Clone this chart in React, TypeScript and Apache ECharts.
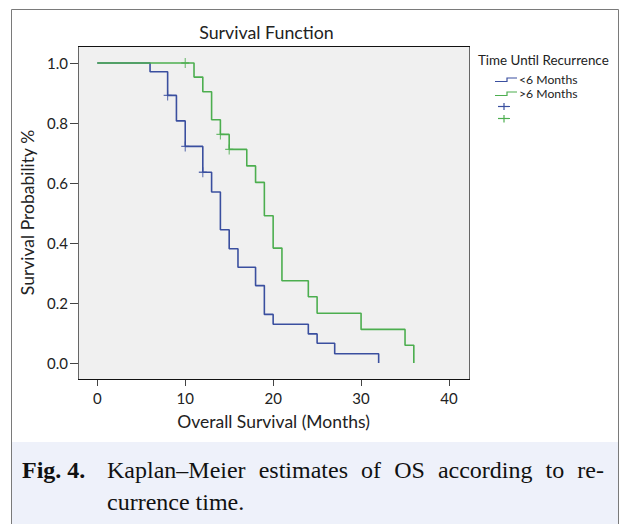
import React, { useEffect, useRef } from "react";
import * as echarts from "echarts";

// ---- data ----
const blueTimes = [0, 6, 8, 9, 10, 12, 13, 14, 15, 16, 18, 19, 20, 24, 25, 27, 32];
const blueSurv = [1, 0.971, 0.892, 0.807, 0.722, 0.636, 0.57, 0.444, 0.381, 0.319, 0.258, 0.162, 0.129, 0.097, 0.066, 0.031, 0];
const greenTimes = [0, 11, 12, 13, 14, 15, 17, 18, 19, 20, 21, 24, 25, 30, 35, 36];
const greenSurv = [1, 0.953, 0.904, 0.811, 0.762, 0.712, 0.657, 0.602, 0.491, 0.383, 0.274, 0.221, 0.166, 0.112, 0.059, 0];
const blueCensorTimes = [8, 10, 12];
const blueCensorSurv = [0.892, 0.722, 0.636];
const greenCensorTimes = [10, 14, 15];
const greenCensorSurv = [1, 0.762, 0.712];

const xTicks = [0, 10, 20, 30, 40];
const yTicks = [0, 0.2, 0.4, 0.6, 0.8, 1.0];

const seriesNames = ["<6 Months", ">6 Months"];
const legendTitle = "Time Until Recurrence";
const chartTitle = "Survival Function";
const xAxisName = "Overall Survival (Months)";
const yAxisName = "Survival Probability %";
const captionLabel = "Fig. 4.";
const captionLine1 = ["Kaplan–Meier", "estimates", "of", "OS", "according", "to", "re-"];
const captionLine2 = "currence time.";

const BLUE = "#3a4f9f";
const GREEN = "#4cae4f";
const SANS = "Lato, 'Noto Sans', sans-serif";
const SERIF = "'Liberation Serif', 'Times New Roman', serif";
const TEXT = "#222";

const zip = (a: number[], b: number[]) => a.map((v, i) => [v, b[i]]);
const CROSS = "path://M4,0L4,8M0,4L8,4";

export default function App() {
  const ref = useRef<HTMLDivElement>(null);
  useEffect(() => {
    const el = ref.current!;
    const chart = echarts.init(el, null, { renderer: "svg" });

    // justify first caption line
    const ctx = document.createElement("canvas").getContext("2d")!;
    ctx.font = "24px 'Liberation Serif'";
    const widths = captionLine1.map((w) => ctx.measureText(w).width);
    const total = widths.reduce((a, b) => a + b, 0);
    const capLeft = 107;
    const capRight = 604;
    const gap = (capRight - capLeft - total) / (captionLine1.length - 1);
    let cx = capLeft;
    const captionWords = captionLine1.map((w, i) => {
      const e = {
        type: "text",
        x: cx,
        y: 470,
        z: 5,
        style: { text: w, font: `24px ${SERIF}`, fill: "#111", verticalAlign: "middle" },
      };
      cx += widths[i] + gap;
      return e;
    });

    const plotL = 78, plotT = 46, plotR = 469, plotB = 379;

    chart.setOption({
      animation: false,
      backgroundColor: "#fff",
      grid: {
        left: plotL,
        top: plotT,
        width: plotR - plotL,
        height: plotB - plotT,
        containLabel: false,
        outerBoundsMode: "none",
      },
      xAxis: {
        type: "value",
        min: -2.195,
        max: 42.275,
        axisLine: { show: false, onZero: false },
        axisTick: { show: true, length: 7, customValues: xTicks, lineStyle: { color: "#444", width: 1 } },
        axisLabel: { margin: 11, fontSize: 15, color: TEXT, fontFamily: SANS, customValues: xTicks },
        splitLine: { show: false },
        name: xAxisName,
        nameLocation: "middle",
        nameGap: 33,
        nameTextStyle: { fontSize: 17.5, color: TEXT, fontFamily: SANS },
      },
      yAxis: {
        type: "value",
        min: -0.0533,
        max: 1.0567,
        axisLine: { show: false, onZero: false },
        axisTick: { show: true, length: 8, customValues: yTicks, lineStyle: { color: "#444", width: 1 } },
        axisLabel: {
          margin: 10,
          fontSize: 15,
          color: TEXT,
          fontFamily: SANS,
          customValues: yTicks,
          formatter: (v: number) => v.toFixed(1),
        },
        splitLine: { show: false },
        name: yAxisName,
        nameLocation: "middle",
        nameGap: 34,
        nameRotate: 90,
        nameTextStyle: { fontSize: 17.5, color: TEXT, fontFamily: SANS },
      },
      series: [
        {
          name: seriesNames[0],
          type: "line",
          step: "end",
          data: zip(blueTimes, blueSurv),
          showSymbol: false,
          lineStyle: { color: BLUE, width: 1.6 },
          itemStyle: { color: BLUE },
          z: 3,
        },
        {
          name: seriesNames[1],
          type: "line",
          step: "end",
          data: zip(greenTimes, greenSurv),
          showSymbol: false,
          lineStyle: { color: GREEN, width: 1.6 },
          itemStyle: { color: GREEN },
          z: 3,
        },
        {
          name: seriesNames[0] + " censored",
          type: "scatter",
          data: zip(blueCensorTimes, blueCensorSurv),
          symbol: CROSS,
          symbolSize: [8, 10],
          itemStyle: { color: "transparent", borderColor: BLUE, borderWidth: 1.2 },
          z: 4,
        },
        {
          name: seriesNames[1] + " censored",
          type: "scatter",
          data: zip(greenCensorTimes, greenCensorSurv),
          symbol: CROSS,
          symbolSize: [8, 10],
          itemStyle: { color: "transparent", borderColor: GREEN, borderWidth: 1.2 },
          z: 4,
        },
      ],
      graphic: [
        // outer frame
        {
          type: "rect",
          z: -30,
          shape: { x: 11.5, y: 9.5, width: 607, height: 530 },
          style: { fill: "#fff", stroke: "#7a7a7a", lineWidth: 1 },
        },
        {
          type: "rect",
          z: -29,
          shape: { x: 12, y: 442, width: 606, height: 90 },
          style: { fill: "#eef1fa" },
        },
        // plot box
        {
          type: "rect",
          z: -10,
          shape: { x: plotL + 0.5, y: plotT + 0.5, width: plotR - plotL, height: plotB - plotT },
          style: { fill: "#f0f0f0", stroke: "#666", lineWidth: 1 },
        },
        {
          type: "line",
          z: 6,
          shape: { x1: plotL, y1: plotT + 0.5, x2: plotR + 1, y2: plotT + 0.5 },
          style: { stroke: "#111", lineWidth: 1.2 },
        },
        {
          type: "line",
          z: 6,
          shape: { x1: plotL, y1: plotB + 0.5, x2: plotR + 1, y2: plotB + 0.5 },
          style: { stroke: "#111", lineWidth: 1.2 },
        },
        // chart title
        {
          type: "text",
          x: 266.5,
          y: 32,
          style: { text: chartTitle, font: `17.8px ${SANS}`, fill: TEXT, align: "center", verticalAlign: "middle" },
        },
        // legend
        {
          type: "text",
          x: 478,
          y: 60,
          style: { text: legendTitle, font: `13.4px ${SANS}`, fill: TEXT, verticalAlign: "middle" },
        },
        {
          type: "polyline",
          shape: { points: [[495, 81.5], [507, 81.5], [507, 78], [517, 78]] },
          style: { stroke: BLUE, lineWidth: 1.2, fill: "none" },
        },
        {
          type: "text",
          x: 519,
          y: 79.5,
          style: { text: seriesNames[0], font: `12.2px ${SANS}`, fill: TEXT, verticalAlign: "middle" },
        },
        {
          type: "polyline",
          shape: { points: [[495, 95.5], [507, 95.5], [507, 92], [517, 92]] },
          style: { stroke: GREEN, lineWidth: 1.2, fill: "none" },
        },
        {
          type: "text",
          x: 519,
          y: 93.5,
          style: { text: seriesNames[1], font: `12.2px ${SANS}`, fill: TEXT, verticalAlign: "middle" },
        },
        { type: "line", shape: { x1: 498, y1: 106.5, x2: 510, y2: 106.5 }, style: { stroke: BLUE, lineWidth: 1.2 } },
        { type: "line", shape: { x1: 504, y1: 103, x2: 504, y2: 110 }, style: { stroke: BLUE, lineWidth: 1.2 } },
        { type: "line", shape: { x1: 498, y1: 118.5, x2: 510, y2: 118.5 }, style: { stroke: GREEN, lineWidth: 1.2 } },
        { type: "line", shape: { x1: 504, y1: 115, x2: 504, y2: 122.5 }, style: { stroke: GREEN, lineWidth: 1.2 } },
        // caption
        {
          type: "text",
          x: 22,
          y: 470,
          z: 5,
          style: { text: captionLabel, font: `bold 24px ${SERIF}`, fill: "#111", verticalAlign: "middle" },
        },
        ...captionWords,
        {
          type: "text",
          x: capLeft,
          y: 502,
          z: 5,
          style: { text: captionLine2, font: `24px ${SERIF}`, fill: "#111", verticalAlign: "middle" },
        },
      ],
    });
    return () => chart.dispose();
  }, []);
  return <div ref={ref} style={{ position: "fixed", left: 0, top: 0, width: 624, height: 524 }} />;
}
